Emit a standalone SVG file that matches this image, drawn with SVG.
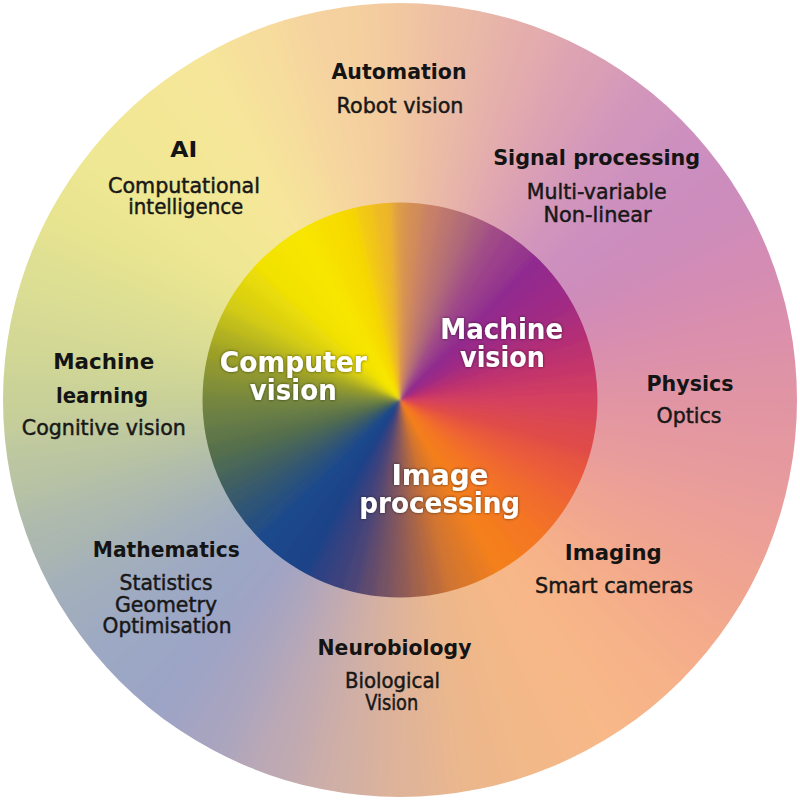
<svg xmlns="http://www.w3.org/2000/svg" xmlns:xlink="http://www.w3.org/1999/xlink" width="800" height="800" viewBox="0 0 800 800">
<style>
.b{font-family:"DejaVu Sans","Liberation Sans",sans-serif;font-weight:bold;font-size:22px;fill:#141414;text-anchor:middle}
.r{font-family:"DejaVu Sans","Liberation Sans",sans-serif;font-size:21.5px;fill:#181818;stroke:#181818;stroke-width:0.5;text-anchor:middle}
.w{font-family:"DejaVu Sans","Liberation Sans",sans-serif;font-weight:bold;font-size:27.5px;fill:#ffffff;text-anchor:middle}
</style>
<defs>
<path id="ow" d="M400,400 L347.7,-97.3 L452.3,-97.3 Z"/>
<path id="iw" d="M400,400 L388.75,185.3 L411.25,185.3 Z"/>
<clipPath id="co"><circle cx="400" cy="400" r="397"/></clipPath>
<clipPath id="ci"><circle cx="400" cy="400" r="197.5"/></clipPath>
<filter id="bo" filterUnits="userSpaceOnUse" x="-150" y="-150" width="1100" height="1100"><feGaussianBlur stdDeviation="20"/></filter>
<filter id="bi" filterUnits="userSpaceOnUse" x="150" y="150" width="500" height="500"><feGaussianBlur stdDeviation="4.5"/></filter>
<filter id="bs" filterUnits="userSpaceOnUse" x="150" y="150" width="500" height="500"><feGaussianBlur stdDeviation="1"/></filter>
<filter id="sh" x="-20%" y="-40%" width="140%" height="180%"><feDropShadow dx="0" dy="0" stdDeviation="1.4" flood-color="#000" flood-opacity="0.6"/></filter>
<radialGradient id="rg" cx="400" cy="400" r="80" gradientUnits="userSpaceOnUse">
<stop offset="0" stop-color="#fff"/><stop offset="0.3" stop-color="#fff"/><stop offset="1" stop-color="#000"/>
</radialGradient>
<mask id="mc" maskUnits="userSpaceOnUse" x="0" y="0" width="800" height="800"><circle cx="400" cy="400" r="80" fill="url(#rg)"/></mask>
<g id="outer-wedges">
<use href="#ow" transform="rotate(0 400 400)" fill="#f2c8a0"/>
<use href="#ow" transform="rotate(10 400 400)" fill="#ebbba5"/>
<use href="#ow" transform="rotate(20 400 400)" fill="#e4adac"/>
<use href="#ow" transform="rotate(30 400 400)" fill="#dca0b4"/>
<use href="#ow" transform="rotate(40 400 400)" fill="#d195bc"/>
<use href="#ow" transform="rotate(50 400 400)" fill="#cc8fbf"/>
<use href="#ow" transform="rotate(60 400 400)" fill="#cc8cbc"/>
<use href="#ow" transform="rotate(70 400 400)" fill="#d48cb4"/>
<use href="#ow" transform="rotate(80 400 400)" fill="#db8fac"/>
<use href="#ow" transform="rotate(90 400 400)" fill="#e094a4"/>
<use href="#ow" transform="rotate(100 400 400)" fill="#e5999f"/>
<use href="#ow" transform="rotate(110 400 400)" fill="#eb9f98"/>
<use href="#ow" transform="rotate(120 400 400)" fill="#f0a490"/>
<use href="#ow" transform="rotate(130 400 400)" fill="#f4ac8b"/>
<use href="#ow" transform="rotate(140 400 400)" fill="#f7b388"/>
<use href="#ow" transform="rotate(150 400 400)" fill="#f8b888"/>
<use href="#ow" transform="rotate(160 400 400)" fill="#f3b888"/>
<use href="#ow" transform="rotate(170 400 400)" fill="#ecb78b"/>
<use href="#ow" transform="rotate(180 400 400)" fill="#e0b498"/>
<use href="#ow" transform="rotate(190 400 400)" fill="#d0afa5"/>
<use href="#ow" transform="rotate(200 400 400)" fill="#bda9b3"/>
<use href="#ow" transform="rotate(210 400 400)" fill="#a8a4c0"/>
<use href="#ow" transform="rotate(220 400 400)" fill="#9ca4c6"/>
<use href="#ow" transform="rotate(230 400 400)" fill="#9ca8c4"/>
<use href="#ow" transform="rotate(240 400 400)" fill="#a2aebc"/>
<use href="#ow" transform="rotate(250 400 400)" fill="#acb8af"/>
<use href="#ow" transform="rotate(260 400 400)" fill="#b9c4a3"/>
<use href="#ow" transform="rotate(270 400 400)" fill="#c8d098"/>
<use href="#ow" transform="rotate(280 400 400)" fill="#d3d895"/>
<use href="#ow" transform="rotate(290 400 400)" fill="#dddf93"/>
<use href="#ow" transform="rotate(300 400 400)" fill="#e8e490"/>
<use href="#ow" transform="rotate(310 400 400)" fill="#efe793"/>
<use href="#ow" transform="rotate(320 400 400)" fill="#f3e796"/>
<use href="#ow" transform="rotate(330 400 400)" fill="#f6e69a"/>
<use href="#ow" transform="rotate(340 400 400)" fill="#f6dd9d"/>
<use href="#ow" transform="rotate(350 400 400)" fill="#f5d19f"/>
</g>
<g id="inner-wedges">
<use href="#iw" transform="rotate(0 400 400)" fill="#dc9a48"/>
<use href="#iw" transform="rotate(5 400 400)" fill="#d28d58"/>
<use href="#iw" transform="rotate(10 400 400)" fill="#c88068"/>
<use href="#iw" transform="rotate(15 400 400)" fill="#bc7670"/>
<use href="#iw" transform="rotate(20 400 400)" fill="#b06c78"/>
<use href="#iw" transform="rotate(25 400 400)" fill="#a85c80"/>
<use href="#iw" transform="rotate(30 400 400)" fill="#a04c88"/>
<use href="#iw" transform="rotate(35 400 400)" fill="#9b418b"/>
<use href="#iw" transform="rotate(40 400 400)" fill="#95378d"/>
<use href="#iw" transform="rotate(45 400 400)" fill="#902c90"/>
<use href="#iw" transform="rotate(50 400 400)" fill="#952c8c"/>
<use href="#iw" transform="rotate(55 400 400)" fill="#9b2c88"/>
<use href="#iw" transform="rotate(60 400 400)" fill="#a02c84"/>
<use href="#iw" transform="rotate(65 400 400)" fill="#a92d7d"/>
<use href="#iw" transform="rotate(70 400 400)" fill="#b32f77"/>
<use href="#iw" transform="rotate(75 400 400)" fill="#bc3070"/>
<use href="#iw" transform="rotate(80 400 400)" fill="#c4356b"/>
<use href="#iw" transform="rotate(85 400 400)" fill="#cc3b65"/>
<use href="#iw" transform="rotate(90 400 400)" fill="#d44060"/>
<use href="#iw" transform="rotate(95 400 400)" fill="#d84458"/>
<use href="#iw" transform="rotate(100 400 400)" fill="#dc4850"/>
<use href="#iw" transform="rotate(105 400 400)" fill="#e04c48"/>
<use href="#iw" transform="rotate(110 400 400)" fill="#e55441"/>
<use href="#iw" transform="rotate(115 400 400)" fill="#e95c3b"/>
<use href="#iw" transform="rotate(120 400 400)" fill="#ee6434"/>
<use href="#iw" transform="rotate(125 400 400)" fill="#f06a2f"/>
<use href="#iw" transform="rotate(130 400 400)" fill="#f27029"/>
<use href="#iw" transform="rotate(135 400 400)" fill="#f47624"/>
<use href="#iw" transform="rotate(140 400 400)" fill="#f47921"/>
<use href="#iw" transform="rotate(145 400 400)" fill="#f47d1f"/>
<use href="#iw" transform="rotate(150 400 400)" fill="#f4801c"/>
<use href="#iw" transform="rotate(155 400 400)" fill="#e87c23"/>
<use href="#iw" transform="rotate(160 400 400)" fill="#dc7829"/>
<use href="#iw" transform="rotate(165 400 400)" fill="#d07430"/>
<use href="#iw" transform="rotate(170 400 400)" fill="#b96b3d"/>
<use href="#iw" transform="rotate(175 400 400)" fill="#a3634b"/>
<use href="#iw" transform="rotate(180 400 400)" fill="#8c5a58"/>
<use href="#iw" transform="rotate(185 400 400)" fill="#765363"/>
<use href="#iw" transform="rotate(190 400 400)" fill="#604b6d"/>
<use href="#iw" transform="rotate(195 400 400)" fill="#4a4478"/>
<use href="#iw" transform="rotate(200 400 400)" fill="#3b437d"/>
<use href="#iw" transform="rotate(205 400 400)" fill="#2d4383"/>
<use href="#iw" transform="rotate(210 400 400)" fill="#1e4288"/>
<use href="#iw" transform="rotate(215 400 400)" fill="#1e4589"/>
<use href="#iw" transform="rotate(220 400 400)" fill="#1e478b"/>
<use href="#iw" transform="rotate(225 400 400)" fill="#1e4a8c"/>
<use href="#iw" transform="rotate(230 400 400)" fill="#274f81"/>
<use href="#iw" transform="rotate(235 400 400)" fill="#2f5577"/>
<use href="#iw" transform="rotate(240 400 400)" fill="#385a6c"/>
<use href="#iw" transform="rotate(245 400 400)" fill="#426161"/>
<use href="#iw" transform="rotate(250 400 400)" fill="#4c6956"/>
<use href="#iw" transform="rotate(255 400 400)" fill="#56704c"/>
<use href="#iw" transform="rotate(260 400 400)" fill="#607748"/>
<use href="#iw" transform="rotate(265 400 400)" fill="#6a7f44"/>
<use href="#iw" transform="rotate(270 400 400)" fill="#748640"/>
<use href="#iw" transform="rotate(275 400 400)" fill="#818f38"/>
<use href="#iw" transform="rotate(280 400 400)" fill="#8f9730"/>
<use href="#iw" transform="rotate(285 400 400)" fill="#9ca028"/>
<use href="#iw" transform="rotate(290 400 400)" fill="#afaf21"/>
<use href="#iw" transform="rotate(295 400 400)" fill="#c1be1b"/>
<use href="#iw" transform="rotate(300 400 400)" fill="#d4cc14"/>
<use href="#iw" transform="rotate(305 400 400)" fill="#ded30d"/>
<use href="#iw" transform="rotate(310 400 400)" fill="#e8db07"/>
<use href="#iw" transform="rotate(315 400 400)" fill="#f2e200"/>
<use href="#iw" transform="rotate(320 400 400)" fill="#f4e300"/>
<use href="#iw" transform="rotate(325 400 400)" fill="#f6e500"/>
<use href="#iw" transform="rotate(330 400 400)" fill="#f8e600"/>
<use href="#iw" transform="rotate(335 400 400)" fill="#f7e100"/>
<use href="#iw" transform="rotate(340 400 400)" fill="#f7dd00"/>
<use href="#iw" transform="rotate(345 400 400)" fill="#f6d800"/>
<use href="#iw" transform="rotate(350 400 400)" fill="#f2c814"/>
<use href="#iw" transform="rotate(355 400 400)" fill="#eeb828"/>
</g>
</defs>
<rect width="800" height="800" fill="#ffffff"/>
<g id="outer-ring" clip-path="url(#co)">
<use href="#outer-wedges" filter="url(#bo)"/>
</g>
<g id="inner-wheel" clip-path="url(#ci)">
<use href="#inner-wedges" filter="url(#bi)"/>
<g mask="url(#mc)"><use href="#inner-wedges" filter="url(#bs)"/></g>
</g>
<g id="connectors"/>
<g id="node-automation">
<text class="b" x="399" y="79" textLength="135" lengthAdjust="spacingAndGlyphs">Automation</text>
<text class="r" x="400" y="113" textLength="127" lengthAdjust="spacingAndGlyphs">Robot vision</text>
</g>
<g id="node-signal-processing">
<text class="b" x="596.7" y="165" textLength="207" lengthAdjust="spacingAndGlyphs">Signal processing</text>
<text class="r" x="596.7" y="199" textLength="140" lengthAdjust="spacingAndGlyphs">Multi-variable</text>
<text class="r" x="597.5" y="221.5" textLength="108" lengthAdjust="spacingAndGlyphs">Non-linear</text>
</g>
<g id="node-ai">
<text class="b" x="183.7" y="156.5" textLength="27" lengthAdjust="spacingAndGlyphs">AI</text>
<text class="r" x="184" y="193" textLength="152" lengthAdjust="spacingAndGlyphs">Computational</text>
<text class="r" x="185.8" y="213.5" textLength="115" lengthAdjust="spacingAndGlyphs">intelligence</text>
</g>
<g id="node-machine-learning">
<text class="b" x="103.7" y="369.3" textLength="101" lengthAdjust="spacingAndGlyphs">Machine</text>
<text class="b" x="102" y="403.3" textLength="92" lengthAdjust="spacingAndGlyphs">learning</text>
<text class="r" x="103.8" y="435" textLength="164" lengthAdjust="spacingAndGlyphs">Cognitive vision</text>
</g>
<g id="node-physics">
<text class="b" x="690" y="390.7" textLength="87" lengthAdjust="spacingAndGlyphs">Physics</text>
<text class="r" x="689" y="423.3" textLength="65" lengthAdjust="spacingAndGlyphs">Optics</text>
</g>
<g id="node-imaging">
<text class="b" x="613.3" y="560" textLength="97" lengthAdjust="spacingAndGlyphs">Imaging</text>
<text class="r" x="614" y="593.3" textLength="158" lengthAdjust="spacingAndGlyphs">Smart cameras</text>
</g>
<g id="node-mathematics">
<text class="b" x="166.3" y="556.7" textLength="147" lengthAdjust="spacingAndGlyphs">Mathematics</text>
<text class="r" x="166" y="590" textLength="93" lengthAdjust="spacingAndGlyphs">Statistics</text>
<text class="r" x="166" y="611.7" textLength="102" lengthAdjust="spacingAndGlyphs">Geometry</text>
<text class="r" x="167" y="633.3" textLength="129" lengthAdjust="spacingAndGlyphs">Optimisation</text>
</g>
<g id="node-neurobiology">
<text class="b" x="394.5" y="655" textLength="154" lengthAdjust="spacingAndGlyphs">Neurobiology</text>
<text class="r" x="392.5" y="688.3" textLength="95" lengthAdjust="spacingAndGlyphs">Biological</text>
<text class="r" x="391.7" y="710" textLength="53" lengthAdjust="spacingAndGlyphs">Vision</text>
</g>
<g id="node-computer-vision" filter="url(#sh)">
<text class="w" x="293.3" y="371.7" textLength="147" lengthAdjust="spacingAndGlyphs">Computer</text>
<text class="w" x="293.3" y="400" textLength="87" lengthAdjust="spacingAndGlyphs">vision</text>
</g>
<g id="node-machine-vision" filter="url(#sh)">
<text class="w" x="501.7" y="339.3" textLength="123" lengthAdjust="spacingAndGlyphs">Machine</text>
<text class="w" x="502.5" y="366.7" textLength="85" lengthAdjust="spacingAndGlyphs">vision</text>
</g>
<g id="node-image-processing" filter="url(#sh)">
<text class="w" x="440" y="485" textLength="97" lengthAdjust="spacingAndGlyphs">Image</text>
<text class="w" x="439.7" y="513.3" textLength="161" lengthAdjust="spacingAndGlyphs">processing</text>
</g>
</svg>
